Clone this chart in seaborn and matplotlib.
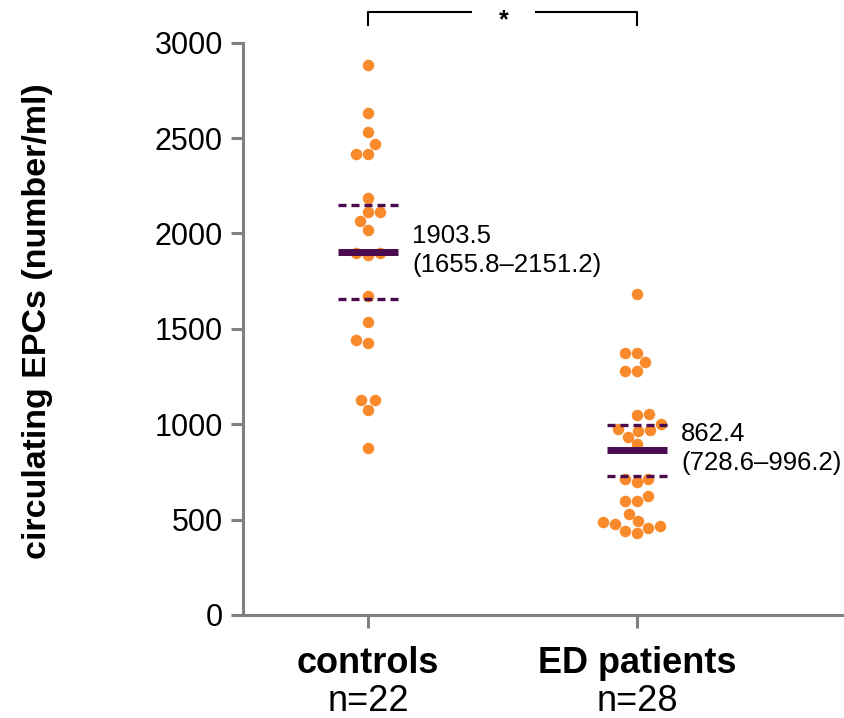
import numpy as np
import pandas as pd
import matplotlib
matplotlib.use("Agg")
import matplotlib.pyplot as plt
import seaborn as sns
from matplotlib.transforms import blended_transform_factory

# ---- data ----
groups = ["controls", "ED patients"]
n_labels = ["n=22", "n=28"]
controls = [2881, 2631, 2531, 2468, 2417, 2417, 2188, 2112, 2112, 2065, 2018,
            1900, 1885, 1900, 1671, 1536, 1443, 1426, 1125, 1125, 1076, 876]
ed_patients = [1685, 1375, 1375, 1326, 1279, 1279, 1052, 1048, 1000, 975, 968,
               962, 935, 897, 713, 713, 695, 625, 599, 599, 529, 492, 485, 478,
               464, 456, 442, 432]
means = [1903.5, 862.4]
ci_lo = [1655.8, 728.6]
ci_hi = [2151.2, 996.2]
yticks = [0, 500, 1000, 1500, 2000, 2500, 3000]
sig_label = "*"
ylabel = "circulating EPCs (number/ml)"

ORANGE = "#F98A2B"
PURPLE = "#4A0B4F"
AXGRAY = "#808080"

sns.set_style("ticks")
plt.rcParams["font.family"] = ["Liberation Sans", "DejaVu Sans"]
plt.rcParams["text.color"] = "black"
plt.rcParams["axes.labelcolor"] = "black"
plt.rcParams["xtick.labelcolor"] = "black"
plt.rcParams["ytick.labelcolor"] = "black"

fig = plt.figure(figsize=(8.44, 7.18), dpi=100)
ax = fig.add_axes([243 / 844, 1 - 615 / 718, 1 - 243 / 844, (615 - 42.7) / 718])

df = pd.DataFrame({
    "group": [groups[0]] * len(controls) + [groups[1]] * len(ed_patients),
    "value": controls + ed_patients,
})
sns.swarmplot(data=df, x="group", y="value", order=groups, color=ORANGE,
              size=8.3, linewidth=0, ax=ax, zorder=2)

hw = 0.11
for i in range(len(groups)):
    ax.plot([i - hw, i + hw], [means[i]] * 2, color=PURPLE, lw=5,
            solid_capstyle="butt", zorder=3)
    for v in (ci_lo[i], ci_hi[i]):
        ax.plot([i - hw, i + hw], [v, v], color=PURPLE, lw=2.4,
                linestyle=(0, (2.4, 1.5)), zorder=3)
    ax.annotate(f"{means[i]:.1f}", xy=(i + 0.165, means[i]), xytext=(0, 9),
                textcoords="offset pixels", fontsize=18.5, ha="left", va="baseline",
                color="black")
    ax.annotate(f"({ci_lo[i]:.1f}\u2013{ci_hi[i]:.1f})", xy=(i + 0.165, means[i]),
                xytext=(0, -20), textcoords="offset pixels", fontsize=18.5,
                ha="left", va="baseline", color="black")

ax.set_xlim(-0.465, 1.77)
ax.set_ylim(0, 3000)
ax.set_yticks(yticks)
ax.set_xticks(range(len(groups)))
ax.set_xticklabels([""] * len(groups))
ax.set_xlabel("")
ax.set_ylabel("")
sns.despine(ax=ax)
for s in ("left", "bottom"):
    ax.spines[s].set_color(AXGRAY)
    ax.spines[s].set_linewidth(2.2)
ax.tick_params(axis="both", length=9, width=2.2, color=AXGRAY, labelsize=22,
               pad=5.5, labelcolor="black")

trans = blended_transform_factory(ax.transData, ax.transAxes)
for i in range(len(groups)):
    ax.text(i, -0.1014, groups[i], transform=trans, ha="center", va="baseline",
            fontsize=26, fontweight="bold", color="black")
    ax.text(i, -0.168, n_labels[i], transform=trans, ha="center", va="baseline",
            fontsize=26, color="black")

fig.text(38 / 844, 1 - 321 / 718, ylabel, rotation=90, ha="center", va="center",
         fontsize=24.5, fontweight="bold", color="black")

# significance bracket
yb_top, yb_bot = 3159, 3089
ax.plot([0, 0, 0.385], [yb_bot, yb_top, yb_top], color="black", lw=1.5,
        clip_on=False, solid_capstyle="butt")
ax.plot([0.621, 1, 1], [yb_top, yb_top, yb_bot], color="black", lw=1.5,
        clip_on=False, solid_capstyle="butt")
ax.text(0.503, 3081, sig_label, ha="center", va="baseline", fontsize=18,
        fontweight="bold", color="black")

fig.savefig("out.png", dpi=100)
